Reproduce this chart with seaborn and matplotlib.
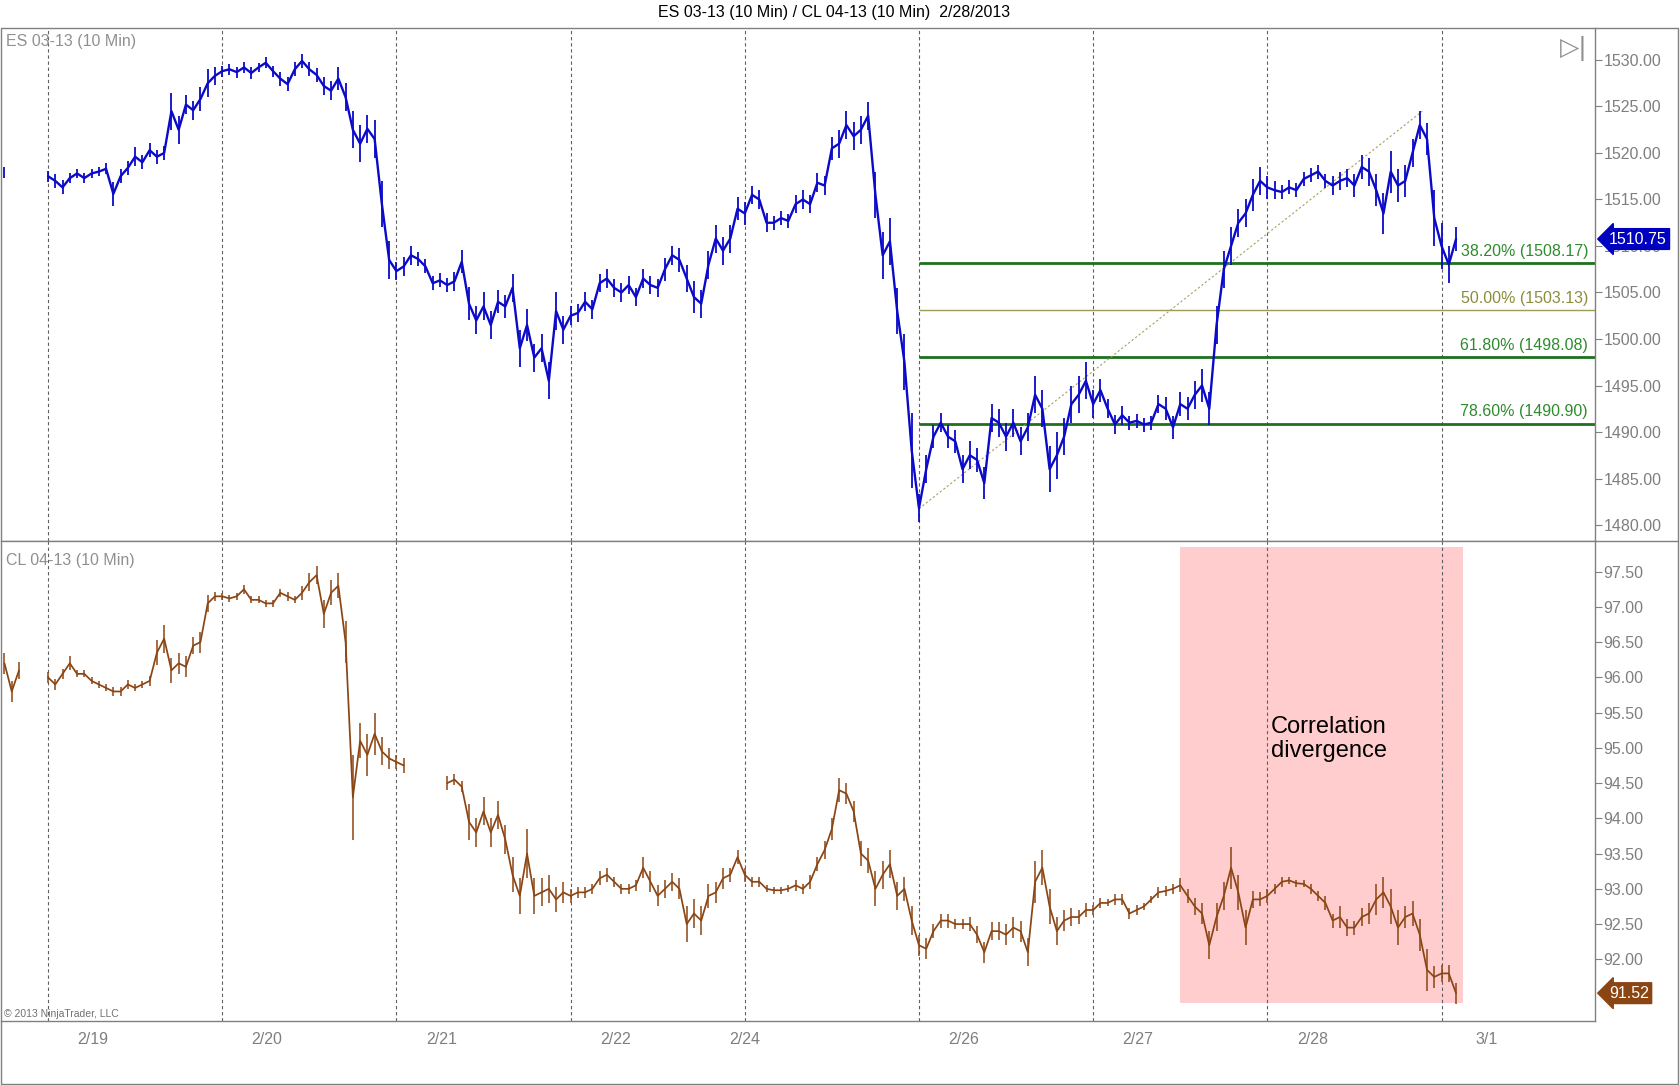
import numpy as np
import pandas as pd
import seaborn as sns
import matplotlib.pyplot as plt
from matplotlib.patches import Rectangle
from matplotlib.lines import Line2D

nan = np.nan

# x axis = trading sessions since 2/18 18:00 (weekend removed), one value per ~1/24 session
start = -0.25
step = 1 / 24

# ES 03-13 (10 Min) prices
es_vals = [1517.9, nan, nan, nan, nan, nan,
    1517.5, 1517.0, 1516.3, 1517.3, 1517.8, 1517.3, 1517.8, 1518.0, 1518.3, 1515.6,
    1517.5, 1518.4, 1519.6, 1519.0, 1520.3, 1519.6, 1520.0, 1524.5, 1522.5, 1525.2,
    1524.6, 1525.8, 1527.5, 1528.3, 1528.8, 1529.0, 1528.7, 1529.2, 1528.6, 1529.2,
    1529.7, 1528.8, 1528.0, 1527.4, 1529.0, 1529.9, 1529.0, 1528.4, 1527.2, 1526.7,
    1528.0, 1526.0, 1522.5, 1521.0, 1522.6, 1521.5, 1514.5, 1508.5, 1507.3, 1507.8,
    1509.0, 1508.6, 1507.8, 1506.0, 1506.3, 1505.8, 1506.2, 1508.3, 1503.8, 1502.0,
    1503.5, 1501.5, 1504.0, 1503.5, 1505.5, 1499.0, 1501.5, 1498.0, 1499.0, 1495.5,
    1503.0, 1501.0, 1502.5, 1502.8, 1504.0, 1503.2, 1506.0, 1506.5, 1505.5, 1505.0,
    1505.8, 1504.5, 1506.5, 1505.8, 1505.5, 1507.5, 1509.0, 1508.5, 1506.5, 1504.5,
    1503.8, 1508.0, 1510.8, 1509.5, 1510.8, 1514.0, 1513.5, 1515.5, 1515.0, 1512.5,
    1512.5, 1513.0, 1512.7, 1514.5, 1515.0, 1514.5, 1516.8, 1516.5, 1520.5, 1521.0,
    1523.0, 1521.8, 1522.5, 1524.0, 1515.5, 1509.0, 1510.5, 1503.0, 1497.5, 1488.0,
    1481.8, 1486.0, 1489.5, 1491.0, 1489.5, 1489.0, 1486.0, 1487.5, 1487.0, 1484.5,
    1491.5, 1491.0, 1489.5, 1491.0, 1489.0, 1490.5, 1494.0, 1492.5, 1486.0, 1487.5,
    1489.5, 1493.0, 1494.0, 1495.5, 1493.0, 1494.5, 1492.5, 1490.8, 1491.8, 1491.0,
    1491.2, 1490.8, 1491.0, 1493.0, 1492.5, 1490.5, 1493.0, 1492.5, 1494.0, 1495.0,
    1492.5, 1501.5, 1507.5, 1510.0, 1512.5, 1513.5, 1515.5, 1517.0, 1516.3, 1516.0,
    1515.8, 1516.3, 1516.0, 1517.2, 1517.6, 1518.0, 1517.0, 1516.5, 1517.0, 1517.3,
    1516.5, 1518.5, 1518.0, 1516.0, 1513.5, 1518.0, 1516.5, 1517.0, 1520.0, 1523.0,
    1521.5, 1513.0, 1510.0, 1508.0, 1510.75]

# high-low range of the bars around each ES value (points)
es_rng = [1.1, 0, 0, 0, 0, 0,
    1.2, 1.5, 1.5, 1.0, 1.0, 1.0, 1.0, 1.0, 1.2, 2.5,
    1.5, 1.5, 2.0, 1.5, 1.5, 1.5, 1.5, 4.0, 3.0, 2.0,
    2.0, 2.5, 3.0, 2.0, 1.2, 1.2, 1.2, 1.2, 1.2, 1.0,
    1.2, 1.2, 1.5, 1.5, 1.5, 1.5, 1.5, 1.5, 2.0, 2.0,
    2.5, 3.0, 4.0, 4.0, 3.0, 4.0, 5.0, 4.0, 2.0, 2.0,
    2.0, 1.5, 1.5, 1.5, 1.5, 1.5, 2.0, 2.5, 3.5, 3.0,
    3.0, 3.0, 2.5, 2.5, 3.0, 4.0, 3.5, 3.0, 3.0, 4.0,
    4.0, 3.0, 2.0, 2.0, 2.0, 2.0, 2.0, 2.0, 2.0, 2.0,
    2.0, 2.0, 2.0, 2.0, 2.0, 2.5, 2.0, 2.5, 3.0, 3.5,
    3.0, 3.0, 3.0, 3.0, 3.0, 2.5, 2.5, 2.0, 2.0, 2.0,
    1.5, 1.5, 1.5, 2.0, 2.0, 2.0, 2.0, 2.0, 2.5, 3.0,
    3.0, 3.0, 3.0, 3.0, 5.0, 5.0, 5.0, 5.0, 6.0, 8.0,
    3.0, 3.0, 2.5, 2.0, 2.5, 2.5, 3.0, 3.0, 2.5, 3.5,
    3.0, 3.0, 3.0, 3.0, 3.0, 3.0, 4.0, 4.0, 5.0, 5.0,
    4.0, 4.0, 4.0, 4.0, 3.0, 2.5, 2.0, 2.0, 2.0, 1.5,
    1.5, 1.5, 1.5, 2.0, 2.5, 2.5, 2.5, 2.5, 3.0, 3.5,
    3.5, 4.0, 4.0, 4.0, 3.0, 3.0, 3.5, 3.0, 2.5, 2.0,
    1.5, 1.5, 1.5, 1.5, 1.5, 1.5, 1.5, 2.0, 2.0, 2.0,
    2.5, 2.5, 3.0, 3.5, 4.5, 4.5, 3.5, 3.5, 3.0, 3.0,
    3.5, 6.0, 5.0, 4.0, 2.5]

# CL 04-13 (10 Min) prices
cl_vals = [96.2, 95.8, 96.1, nan, nan, nan,
    96.0, 95.9, 96.05, 96.2, 96.05, 96.05, 95.95, 95.9, 95.85, 95.8,
    95.8, 95.9, 95.85, 95.9, 95.95, 96.35, 96.55, 96.1, 96.2, 96.15,
    96.45, 96.5, 97.05, 97.15, 97.15, 97.12, 97.15, 97.25, 97.1, 97.1,
    97.05, 97.05, 97.2, 97.15, 97.1, 97.2, 97.35, 97.45, 96.9, 97.2,
    97.3, 96.5, 94.3, 95.1, 94.9, 95.2, 94.95, 94.85, 94.8, 94.75,
    nan, nan, nan, nan, nan, 94.5, 94.55, 94.45, 93.95, 93.8,
    94.1, 93.8, 94.05, 93.7, 93.2, 92.9, 93.5, 92.9, 92.95, 93.0,
    92.85, 92.95, 92.9, 92.95, 92.95, 93.0, 93.15, 93.2, 93.1, 93.0,
    93.0, 93.05, 93.3, 93.1, 92.9, 93.0, 93.1, 93.0, 92.5, 92.65,
    92.55, 92.9, 92.95, 93.15, 93.2, 93.45, 93.2, 93.1, 93.1, 93.0,
    92.98, 92.98, 93.0, 93.05, 93.0, 93.1, 93.35, 93.55, 93.85, 94.4,
    94.35, 94.1, 93.5, 93.4, 93.0, 93.2, 93.35, 92.9, 93.0, 92.55,
    92.2, 92.15, 92.4, 92.55, 92.55, 92.5, 92.5, 92.5, 92.35, 92.1,
    92.4, 92.4, 92.35, 92.45, 92.4, 92.1, 93.1, 93.3, 92.75, 92.4,
    92.55, 92.6, 92.6, 92.7, 92.7, 92.8, 92.8, 92.85, 92.85, 92.65,
    92.7, 92.75, 92.85, 92.95, 92.97, 93.0, 93.05, 92.9, 92.75, 92.65,
    92.2, 92.6, 92.9, 93.3, 92.95, 92.45, 92.85, 92.85, 92.9, 93.0,
    93.1, 93.12, 93.08, 93.07, 93.0, 92.9, 92.8, 92.55, 92.6, 92.45,
    92.45, 92.6, 92.65, 92.85, 92.95, 92.75, 92.45, 92.6, 92.65, 92.35,
    91.85, 91.75, 91.8, 91.8, 91.52]

# high-low range of the bars around each CL value (dollars)
cl_rng = [0.3, 0.3, 0.25, 0, 0, 0,
    0.15, 0.15, 0.15, 0.2, 0.1, 0.1, 0.1, 0.1, 0.1, 0.12,
    0.12, 0.12, 0.1, 0.1, 0.15, 0.35, 0.4, 0.35, 0.3, 0.3,
    0.25, 0.3, 0.25, 0.12, 0.1, 0.1, 0.1, 0.12, 0.1, 0.1,
    0.1, 0.1, 0.12, 0.12, 0.1, 0.2, 0.25, 0.25, 0.4, 0.35,
    0.35, 0.6, 1.2, 0.5, 0.6, 0.6, 0.4, 0.3, 0.2, 0.2,
    0, 0, 0, 0, 0, 0.2, 0.15, 0.15, 0.5, 0.4,
    0.4, 0.4, 0.4, 0.4, 0.5, 0.5, 0.7, 0.5, 0.4, 0.4,
    0.35, 0.3, 0.2, 0.15, 0.15, 0.15, 0.2, 0.2, 0.15, 0.15,
    0.15, 0.15, 0.3, 0.3, 0.3, 0.25, 0.25, 0.3, 0.5, 0.4,
    0.4, 0.35, 0.3, 0.3, 0.2, 0.2, 0.2, 0.15, 0.15, 0.1,
    0.1, 0.1, 0.1, 0.15, 0.15, 0.2, 0.2, 0.25, 0.3, 0.35,
    0.3, 0.3, 0.35, 0.35, 0.5, 0.4, 0.4, 0.4, 0.35, 0.4,
    0.3, 0.3, 0.2, 0.2, 0.2, 0.15, 0.15, 0.2, 0.25, 0.3,
    0.25, 0.25, 0.3, 0.3, 0.3, 0.4, 0.6, 0.5, 0.5, 0.4,
    0.3, 0.25, 0.2, 0.2, 0.15, 0.15, 0.1, 0.15, 0.15, 0.15,
    0.15, 0.1, 0.1, 0.15, 0.15, 0.15, 0.2, 0.2, 0.25, 0.3,
    0.4, 0.4, 0.4, 0.6, 0.5, 0.5, 0.25, 0.2, 0.2, 0.15,
    0.15, 0.1, 0.1, 0.1, 0.15, 0.15, 0.2, 0.2, 0.3, 0.25,
    0.2, 0.25, 0.3, 0.45, 0.45, 0.5, 0.5, 0.3, 0.35, 0.45,
    0.6, 0.3, 0.25, 0.25, 0.3]

# session breaks and date ticks
session_breaks = [0, 1, 2, 3, 4, 5, 6, 7, 8]
tick_pos = [0.258, 1.258, 2.258, 3.258, 4.0, 4.258, 5.258, 6.258, 7.258, 8.258]
tick_labels = ["2/19", "2/20", "2/21", "2/22", "2/24", "", "2/26", "2/27", "2/28", "3/1"]

# fibonacci retracement of the 2/25 low -> 2/28 high swing
swing_low = (5.0, 1481.75)
swing_high = (7.89, 1524.5)
fib_pcts = ["38.20%", "50.00%", "61.80%", "78.60%"]
fib_levels = [1508.17, 1503.13, 1498.08, 1490.90]

# shaded divergence zone (sessions, CL price)
zone_x = [6.5, 8.124]
zone_y = [91.38, 97.855]

es_ticks = [1480, 1485, 1490, 1495, 1500, 1505, 1510, 1515, 1520, 1525, 1530]
cl_ticks = [92.0, 92.5, 93.0, 93.5, 94.0, 94.5, 95.0, 95.5, 96.0, 96.5, 97.0, 97.5]


def to_frame(vals, rng):
    assert len(vals) == len(rng)
    df = pd.DataFrame({"price": vals, "rng": rng})
    df["x"] = start + np.arange(len(df)) * step
    df["seg"] = df["price"].isna().cumsum()
    df["lo"] = df["price"] - df["rng"] / 2
    df["hi"] = df["price"] + df["rng"] / 2
    return df.dropna()


es_df = to_frame(es_vals, es_rng)
cl_df = to_frame(cl_vals, cl_rng)

sns.set_theme(style="white")
plt.rcParams["font.family"] = ["Liberation Sans", "DejaVu Sans"]

GRAY = "#808080"
TXT = "#7f7f7f"
ES_BLUE = "#0a0ac8"
CL_BROWN = "#8b4513"

W, H = 1680, 1085
fig = plt.figure(figsize=(W / 100, H / 100), dpi=100)
left, right = 1 / W, 1595 / W
top1, mid, bot2 = 1 - 28 / H, 1 - 541 / H, 1 - 1021 / H
ax1 = fig.add_axes([left, mid, right - left, top1 - mid])
ax2 = fig.add_axes([left, bot2, right - left, mid - bot2], sharex=ax1)

xlim = (-0.27, 8.881)

for ax in (ax1, ax2):
    for b in session_breaks:
        ax.axvline(b, color="#606060", lw=0.8, ls=(0, (3, 2.5)), zorder=1)
    for s in ax.spines.values():
        s.set_color(GRAY)
        s.set_linewidth(1.0)
    ax.spines["left"].set_visible(False)
    ax.spines["top"].set_visible(False)
    ax.yaxis.tick_right()
    ax.tick_params(axis="y", which="both", direction="out", length=5, width=0.8,
                   colors=GRAY, labelcolor=TXT, labelsize=11.5, pad=1)
    ax.set_facecolor("white")

# pink zone under the CL line
ax2.add_patch(Rectangle((zone_x[0], zone_y[0]), zone_x[1] - zone_x[0], zone_y[1] - zone_y[0],
                        facecolor="#ffcdcd", edgecolor="none", zorder=0))

# bar ranges, then the price path on top
ax1.vlines(es_df["x"], es_df["lo"], es_df["hi"], color=ES_BLUE, lw=1.3, zorder=3)
ax2.vlines(cl_df["x"], cl_df["lo"], cl_df["hi"], color=CL_BROWN, lw=1.1, zorder=3)
sns.lineplot(data=es_df, x="x", y="price", units="seg", estimator=None, ax=ax1,
             color=ES_BLUE, linewidth=1.7, zorder=3)
sns.lineplot(data=cl_df, x="x", y="price", units="seg", estimator=None, ax=ax2,
             color=CL_BROWN, linewidth=1.25, zorder=3)

ax1.set_xlim(*xlim)
ax1.set_ylim(1478.28, 1533.44)
ax2.set_ylim(91.125, 97.935)
ax1.set_yticks(es_ticks)
ax1.set_yticklabels([f"{v:.2f}" for v in es_ticks])
ax2.set_yticks(cl_ticks)
ax2.set_yticklabels([f"{v:.2f}" for v in cl_ticks])
for ax in (ax1, ax2):
    ax.set_xlabel("")
    ax.set_ylabel("")

ax1.tick_params(axis="x", bottom=False, labelbottom=False)
ax2.set_xticks(tick_pos)
ax2.set_xticklabels(tick_labels)
ax2.tick_params(axis="x", direction="out", length=5, width=0.8, colors=GRAY,
                labelcolor=TXT, labelsize=11.5, pad=3)

# fib lines + labels
for pct, lvl in zip(fib_pcts, fib_levels):
    half = pct == "50.00%"
    ax1.hlines(lvl, swing_low[0], xlim[1], color="#9c9c55" if half else "#1e701e",
               lw=1.0 if half else 2.0, zorder=2)
    ax1.annotate(f"{pct} ({lvl:.2f})", xy=(xlim[1], lvl), xytext=(-5, 3),
                 textcoords="offset points", ha="right", va="bottom", fontsize=11.5,
                 color="#8c8c3c" if half else "#2e8b2e")
ax1.plot([swing_low[0], swing_high[0]], [swing_low[1], swing_high[1]],
         color="#a8a060", lw=0.8, ls=(0, (2, 2)), zorder=2)

# last price tags
ax1.annotate(f"{es_vals[-1]:.2f}", xy=(1.0, es_vals[-1]), xycoords=ax1.get_yaxis_transform(),
             xytext=(10, 0), textcoords="offset points", ha="left", va="center",
             color="white", fontsize=11.5, annotation_clip=False, zorder=6,
             bbox=dict(boxstyle="larrow,pad=0.18", fc="#0000c0", ec="#0000c0"))
ax2.annotate(f"{cl_vals[-1]:.2f}", xy=(1.0, cl_vals[-1]), xycoords=ax2.get_yaxis_transform(),
             xytext=(10, 0), textcoords="offset points", ha="left", va="center",
             color="white", fontsize=11.5, annotation_clip=False, zorder=6,
             bbox=dict(boxstyle="larrow,pad=0.18", fc=CL_BROWN, ec=CL_BROWN))

ax2.text(7.02, 95.45, "Correlation\ndivergence", fontsize=17, color="black",
         ha="left", va="top", linespacing=1.1, zorder=5)

ax1.text(0.003, 0.988, "ES 03-13 (10 Min)", transform=ax1.transAxes, ha="left", va="top",
         fontsize=11.5, color="#909090")
ax2.text(0.003, 0.975, "CL 04-13 (10 Min)", transform=ax2.transAxes, ha="left", va="top",
         fontsize=11.5, color="#909090")
ax2.text(0.002, 0.004, "\u00a9 2013 NinjaTrader, LLC", transform=ax2.transAxes, ha="left",
         va="bottom", fontsize=7.5, color="#707070")
ax1.text(0.9955, 0.985, "\u25b7|", transform=ax1.transAxes, ha="right", va="top",
         fontsize=18, color="#909090", family="DejaVu Sans")

fig.text(834 / W, 1 - 13 / H, "ES 03-13 (10 Min) / CL 04-13 (10 Min)  2/28/2013",
         ha="center", va="center", fontsize=11.5, color="black")

# outer frame and panel divider
fig.add_artist(Rectangle((1 / W, 1 / H), 1677 / W, (H - 29) / H, transform=fig.transFigure,
                         fill=False, edgecolor=GRAY, lw=1.0))
fig.add_artist(Line2D([1 / W, 1678 / W], [mid, mid], transform=fig.transFigure, color=GRAY, lw=1.0))

fig.savefig("out.png", dpi=100)
